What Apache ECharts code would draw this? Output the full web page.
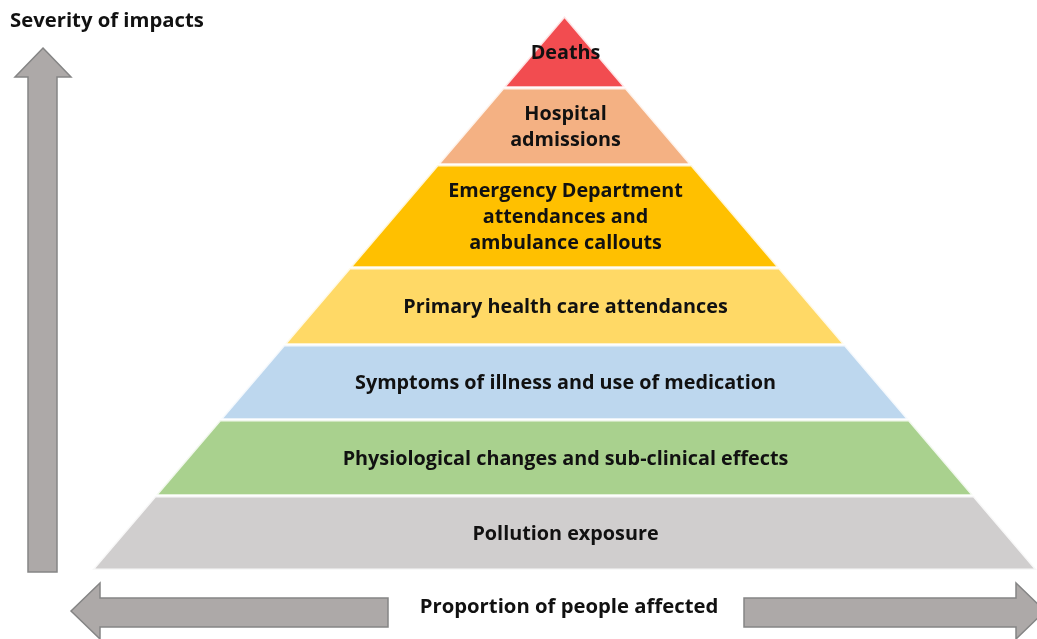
<!DOCTYPE html>
<html>
<head>
<meta charset="utf-8">
<script src="https://cdn.jsdelivr.net/npm/echarts@6/dist/echarts.min.js"></script>
<style>
html,body{margin:0;padding:0;background:#fff;}
#chart{width:1037px;height:639px;}
</style>
</head>
<body>
<div id="chart"></div>
<script>
// Pyramid layers, top (most severe) to bottom
const layerNames = [
  'Deaths',
  'Hospital\nadmissions',
  'Emergency Department\nattendances and\nambulance callouts',
  'Primary health care attendances',
  'Symptoms of illness and use of medication',
  'Physiological changes and sub-clinical effects',
  'Pollution exposure'
];
// severity level (vertical units) at the top and bottom of each layer
const layerTop    = [554, 482, 405, 302, 225, 150, 74];
const layerBottom = [482, 405, 302, 225, 150, 74, 0];
const apexLevel = 554;
const layerColors = ['#F24C50', '#F4B183', '#FFC000', '#FFD966', '#BDD7EE', '#A9D18E', '#D0CECE'];
const yAxisTitle = 'Severity of impacts';
const xAxisTitle = 'Proportion of people affected';

const data = layerNames.map((n, i) => [layerBottom[i], layerTop[i], i]);

const FONT = '"Open Sans"';

const chart = echarts.init(document.getElementById('chart'), null, {renderer: 'canvas'});

function halfWidth(level) { return (apexLevel - level) / apexLevel; }

const arrowFill = '#ADA9A8';
const arrowStroke = '#858585';

chart.setOption({
  animation: false,
  backgroundColor: '#fff',
  grid: {left: 92, top: 16, width: 948, height: 554},
  xAxis: {type: 'value', min: -1, max: 1, show: false},
  yAxis: {type: 'value', min: 0, max: apexLevel, show: false},
  graphic: [
    {
      type: 'polygon',
      shape: {points: [[43,48],[71,77],[57,77],[57,572],[28,572],[28,77],[15,77]]},
      style: {fill: arrowFill, stroke: arrowStroke, lineWidth: 1.5}
    },
    {
      type: 'polygon',
      shape: {points: [[71,611],[100,583],[100,598],[388,598],[388,627],[100,627],[100,639]]},
      style: {fill: arrowFill, stroke: arrowStroke, lineWidth: 1.5}
    },
    {
      type: 'polygon',
      shape: {points: [[744,598],[1016,598],[1016,583],[1045,611],[1016,639],[1016,627],[744,627]]},
      style: {fill: arrowFill, stroke: arrowStroke, lineWidth: 1.5}
    },
    {
      type: 'text', x: 10, y: 21,
      style: {text: yAxisTitle, font: 'bold 20.3px ' + FONT, fill: '#111', verticalAlign: 'middle'}
    },
    {
      type: 'text', x: 569, y: 607,
      style: {text: xAxisTitle, font: 'bold 20.3px ' + FONT, fill: '#111', align: 'center', verticalAlign: 'middle'}
    }
  ],
  series: [{
    type: 'custom',
    coordinateSystem: 'cartesian2d',
    data: data,
    renderItem: function (params, api) {
      const b = api.value(0), t = api.value(1), idx = api.value(2);
      const hb = halfWidth(b), ht = halfWidth(t);
      const p1 = api.coord([-hb, b]);
      const p2 = api.coord([hb, b]);
      const p3 = api.coord([ht, t]);
      const p4 = api.coord([-ht, t]);
      const c = api.coord([0, (b + t) / 2]);
      return {
        type: 'group',
        children: [
          {
            type: 'polygon',
            shape: {points: [p1, p2, p3, p4]},
            style: {fill: layerColors[idx], stroke: 'rgba(255,255,255,0.85)', lineWidth: 3}
          },
          {
            type: 'text',
            x: c[0] + 1, y: c[1] + 1,
            style: {
              text: layerNames[idx],
              font: 'bold 19.8px ' + FONT,
              fill: '#111',
              align: 'center',
              verticalAlign: 'middle',
              lineHeight: 26
            }
          }
        ]
      };
    }
  }]
});
</script>
</body>
</html>
